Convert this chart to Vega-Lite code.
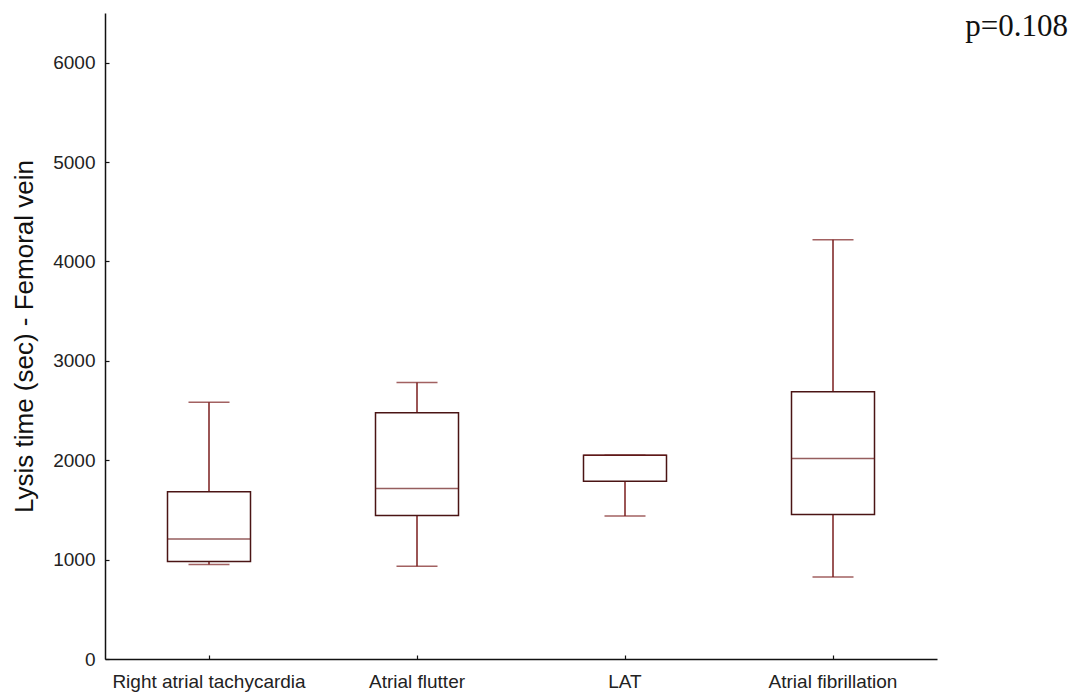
{
  "$schema": "https://vega.github.io/schema/vega-lite/v6.json",
  "autosize": "none",
  "width": 832,
  "height": 646,
  "padding": {"left": 105, "top": 13, "right": 137, "bottom": 36},
  "background": "white",
  "config": {
    "view": {"stroke": null},
    "font": "Liberation Sans",
    "axis": {"grid": false, "domainColor": "#111111", "domainWidth": 1.5, "tickColor": "#111111", "tickWidth": 1.2, "labelColor": "#222222", "titleColor": "#111111", "labelFont": "Liberation Sans", "titleFont": "Liberation Sans"}
  },
  "data": {"values": [
    {"group": "Right atrial tachycardia", "lower": 950, "q1": 980, "median": 1208, "q3": 1682, "upper": 2584},
    {"group": "Atrial flutter", "lower": 933, "q1": 1443, "median": 1715, "q3": 2477, "upper": 2782},
    {"group": "LAT", "lower": 1440, "q1": 1788, "median": 2050, "q3": 2050, "upper": 2050},
    {"group": "Atrial fibrillation", "lower": 826, "q1": 1453, "median": 2017, "q3": 2689, "upper": 4219}
  ]},
  "encoding": {
    "x": {"field": "group", "type": "nominal", "sort": null,
      "scale": {"type": "band", "paddingInner": 0, "paddingOuter": 0},
      "axis": {"title": null, "labelAngle": 0, "labelFontSize": 19, "labelLimit": 0, "tickSize": -4, "labelPadding": 17, "labelBaseline": "top"}}
  },
  "layer": [
    {"mark": {"type": "rule", "color": "#7a1e1e", "strokeWidth": 1.5},
     "encoding": {
       "y": {"field": "lower", "type": "quantitative", "scale": {"domain": [0, 6500], "nice": false, "zero": true},
         "axis": {"title": "Lysis time (sec) - Femoral vein", "format": "d", "titleFontSize": 26, "titleFontWeight": "normal", "titlePadding": 15, "labelFontSize": 19, "tickSize": -4, "labelPadding": 14, "values": [0, 1000, 2000, 3000, 4000, 5000, 6000]}},
       "y2": {"field": "q1"}}},
    {"mark": {"type": "rule", "color": "#7a1e1e", "strokeWidth": 1.5},
     "encoding": {"y": {"field": "q3", "type": "quantitative"}, "y2": {"field": "upper"}}},
    {"mark": {"type": "tick", "color": "#7a1e1e", "size": 41, "thickness": 1.5},
     "encoding": {"y": {"field": "lower", "type": "quantitative"}}},
    {"mark": {"type": "tick", "color": "#7a1e1e", "size": 41, "thickness": 1.5},
     "encoding": {"y": {"field": "upper", "type": "quantitative"}}},
    {"mark": {"type": "bar", "fill": "white", "stroke": "#4a1414", "strokeWidth": 1.5, "size": 83},
     "encoding": {"y": {"field": "q1", "type": "quantitative"}, "y2": {"field": "q3"}}},
    {"mark": {"type": "tick", "color": "#6a1a1a", "size": 83, "thickness": 1.5},
     "encoding": {"y": {"field": "median", "type": "quantitative"}}},
    {"data": {"values": [{"label": "p=0.108"}]},
     "mark": {"type": "text", "font": "Liberation Serif", "fontSize": 31, "color": "#111111", "align": "right", "baseline": "alphabetic", "dx": 235},
     "encoding": {"x": {"datum": "Atrial fibrillation"}, "y": {"datum": 6270}, "text": {"field": "label"}}}
  ]
}
